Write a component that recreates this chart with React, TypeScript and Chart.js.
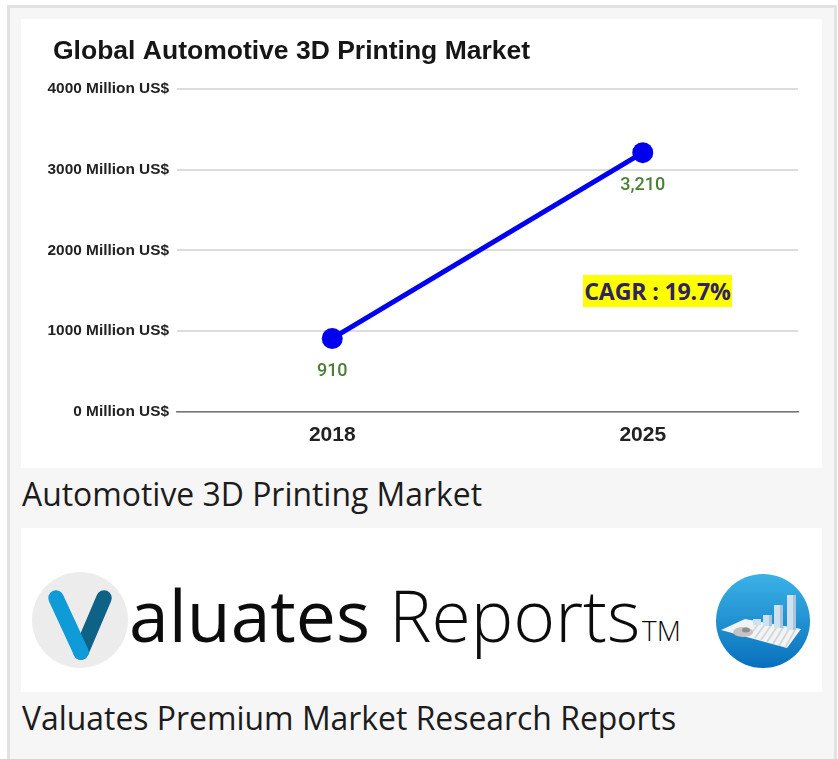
import React, { useEffect, useRef } from "react";
import { Chart, registerables } from "chart.js";

Chart.register(...registerables);

const categories = ["2018", "2025"];
const marketValues = [910, 3210];
const valueLabels = ["910", "3,210"];
const yTicks = [0, 1000, 2000, 3000, 4000];
const chartTitle = "Global Automotive 3D Printing Market";
const cagrText = "CAGR : 19.7%";

const valueLabelPlugin = {
  id: "valueLabels",
  afterLayout(chart: any) {
    // tick labels are wider than the box under the left-aligned title: widen their clip area
    chart.scales.y.left -= 14;
  },
  afterDatasetsDraw(chart: any) {
    const { ctx } = chart;
    const meta = chart.getDatasetMeta(0);
    ctx.save();
    ctx.font = "500 18px Roboto";
    ctx.fillStyle = "#4a7f35";
    ctx.textAlign = "center";
    ctx.textBaseline = "middle";
    meta.data.forEach((pt: any, i: number) => {
      ctx.fillText(valueLabels[i], pt.x, pt.y + 33);
    });
    ctx.restore();
  },
};

const abs = (left: number, top: number, width: number, height: number, extra: React.CSSProperties = {}): React.CSSProperties => ({
  position: "absolute",
  left,
  top,
  width,
  height,
  ...extra,
});

export default function App() {
  const ref = useRef<HTMLCanvasElement>(null);

  useEffect(() => {
    document.body.style.margin = "0";
    const chart = new Chart(ref.current!, {
      type: "line",
      data: {
        labels: categories,
        datasets: [
          {
            label: "Market size",
            data: marketValues,
            borderColor: "#0000ee",
            backgroundColor: "#0000ee",
            borderWidth: 5,
            pointRadius: 10.5,
            pointHoverRadius: 10.5,
            pointBackgroundColor: "#0000ee",
            pointBorderWidth: 0,
            tension: 0,
            fill: false,
          },
        ],
      },
      options: {
        responsive: false,
        animation: false,
        devicePixelRatio: 1,
        layout: { padding: { left: 32, right: 24, top: 17, bottom: 0 } },
        plugins: {
          legend: { display: false },
          tooltip: { enabled: false },
          title: {
            display: true,
            text: chartTitle,
            align: "start",
            color: "#161616",
            font: { family: "'Liberation Sans'", size: 26.5, weight: "bold", lineHeight: 1.2 },
            padding: { top: 0, bottom: 21 },
          },
        },
        scales: {
          x: {
            type: "category",
            offset: true,
            afterFit(scale: any) {
              scale.height = 56;
            },
            grid: { display: false, drawTicks: false },
            border: { display: true, color: "#777777", width: 1.5 },
            ticks: {
              padding: 11,
              color: "#222222",
              font: { family: "'Liberation Sans'", size: 21, weight: "bold" },
            },
          },
          y: {
            type: "linear",
            min: 0,
            max: 4000,
            afterFit(scale: any) {
              scale.width = 124;
            },
            afterBuildTicks(scale: any) {
              scale.ticks = yTicks.map((value) => ({ value }));
            },
            grid: { color: "#dddddd", lineWidth: 2, drawTicks: false },
            border: { display: false },
            ticks: {
              padding: 8,
              color: "#222222",
              font: { family: "'Liberation Sans'", size: 15.4, weight: "bold" },
              callback: (v: any) => `${v} Million US$`,
            },
          },
        },
      },
      plugins: [valueLabelPlugin],
    } as any);
    return () => chart.destroy();
  }, []);

  const caption: React.CSSProperties = {
    fontFamily: "'Open Sans'",
    fontSize: 31.9,
    lineHeight: "40px",
    color: "#1c1c1c",
    whiteSpace: "nowrap",
  };
  const logoText: React.CSSProperties = {
    fontFamily: "'Open Sans'",
    whiteSpace: "nowrap",
    color: "#0c0c0c",
  };

  return (
    <div style={{ position: "relative", width: 838, height: 759, overflow: "hidden", background: "#fff" }}>
      <div style={abs(7, 5, 830, 760, { boxSizing: "border-box", background: "#f6f6f6", border: "3px solid #e2e2e2" })} />
      <div style={abs(21, 19, 801, 449, { background: "#fff" })} />
      <canvas ref={ref} width={801} height={449} style={abs(21, 19, 801, 449, { display: "block" })} />
      <div
        style={abs(583, 275, 149, 32, {
          background: "#ffff00",
          color: "#30235f",
          fontFamily: "'Open Sans'",
          fontWeight: 700,
          fontSize: 23.2,
          lineHeight: "33px",
          letterSpacing: "-0.2px",
          textAlign: "center",
          whiteSpace: "nowrap",
        })}
      >
        {cagrText}
      </div>
      <div style={{ ...abs(22, 474, 700, 40), ...caption }}>Automotive 3D Printing Market</div>

      <div style={abs(21, 528, 801, 164, { background: "#fff" })} />
      <svg style={abs(0, 528, 838, 164)} viewBox="0 528 838 164">
        <defs>
          <linearGradient id="globe" x1="0" y1="0" x2="0" y2="1">
            <stop offset="0" stopColor="#3bb2e7" />
            <stop offset="1" stopColor="#0870bb" />
          </linearGradient>
          <clipPath id="sheet">
            <path d="M721 630 L745 619 L801 629 L787 648 Z" />
          </clipPath>
        </defs>
        <circle cx="80" cy="620" r="48" fill="#ececec" />
        <path d="M104 598 L81 652" stroke="#0d6285" strokeWidth="15.5" strokeLinecap="round" />
        <path d="M56 598 L81 652" stroke="#0f9bd7" strokeWidth="15.5" strokeLinecap="round" />
        <circle cx="763" cy="621" r="47" fill="url(#globe)" />
        <path d="M721 630 L745 619 L801 629 L787 648 Z" fill="#f1f3f4" />
        <g clipPath="url(#sheet)" stroke="#d2d5d7" strokeWidth="1.6">
          <path d="M760 622 L749 636 M766 623 L755 638 M772 624 L761 640 M778 625 L767 642 M784 626 L773 644 M790 627 L779 646 M796 628 L785 648" />
        </g>
        <ellipse cx="743" cy="632" rx="10" ry="5" fill="#c4c4c4" />
        <ellipse cx="746" cy="630" rx="4" ry="2.5" fill="#8f8f8f" />
        <rect x="753" y="619" width="8" height="6" fill="#cfe0ee" />
        <rect x="763" y="615" width="9" height="11" fill="#cfe0ee" />
        <rect x="769" y="615" width="3" height="11" fill="#a9c6dc" />
        <rect x="774" y="605" width="9" height="23" fill="#cfe0ee" />
        <rect x="780" y="605" width="3" height="23" fill="#a9c6dc" />
        <rect x="787" y="595" width="9" height="35" fill="#cfe0ee" />
        <rect x="793" y="595" width="3" height="35" fill="#a9c6dc" />
      </svg>
      <div style={{ ...abs(129, 566, 260, 98), ...logoText, fontSize: 71.5, lineHeight: "98px", fontWeight: 500 }}>aluates</div>
      <div style={{ ...abs(389, 566, 260, 98), ...logoText, fontSize: 71.5, lineHeight: "98px", fontWeight: 300 }}>Reports</div>
      <div style={{ ...abs(642, 610, 50, 40), ...logoText, fontSize: 28, lineHeight: "40px", fontWeight: 300 }}>TM</div>
      <div style={{ ...abs(22, 698, 700, 40), ...caption }}>Valuates Premium Market Research Reports</div>
    </div>
  );
}
